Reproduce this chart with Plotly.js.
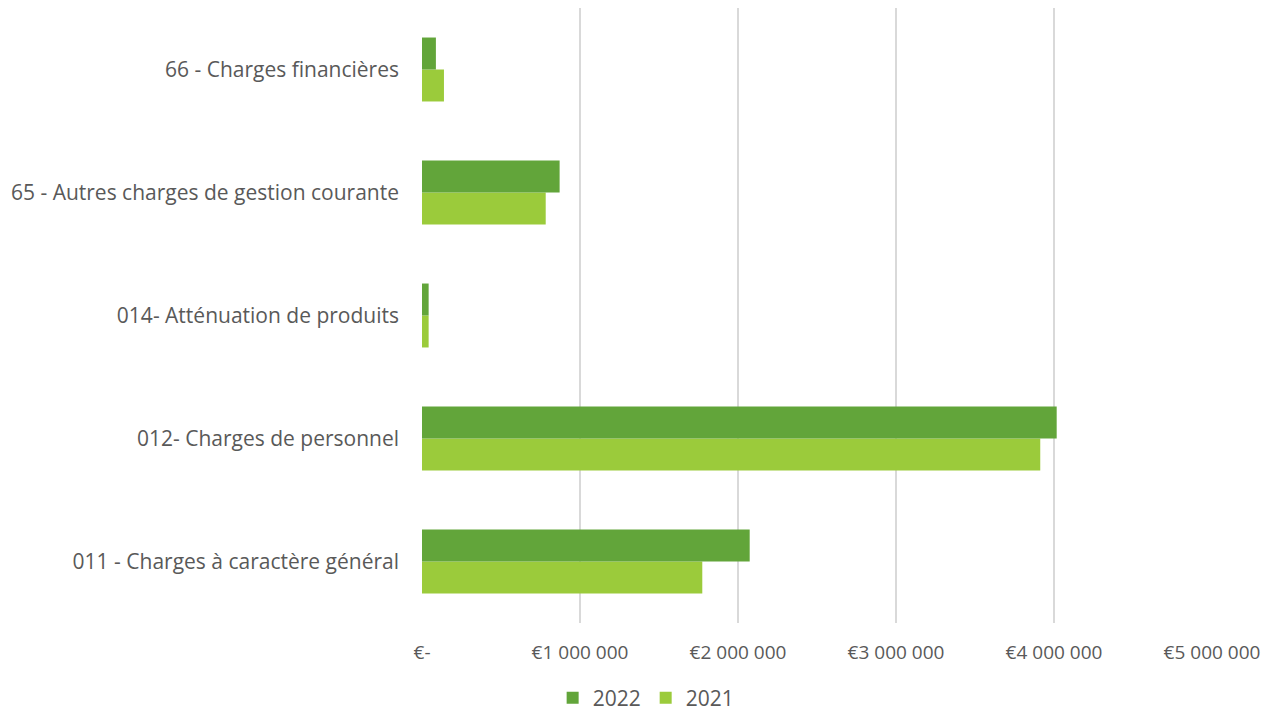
<!DOCTYPE html>
<html>
<head>
<meta charset="utf-8">
<script src="https://cdn.plot.ly/plotly-3.0.1.min.js"></script>
<style>html,body{margin:0;padding:0;background:#fff;}#chart{width:1262px;height:711px;}</style>
</head>
<body>
<div id="chart"></div>
<script>
const categories = [
  "011 - Charges à caractère général",
  "012- Charges de personnel",
  "014- Atténuation de produits",
  "65 - Autres charges de gestion courante",
  "66 - Charges financières"
];
const values2022 = [2074000, 4017000, 42000, 871000, 88000];
const values2021 = [1774000, 3913000, 42000, 783000, 139000];
const tickValues = [0, 1000000, 2000000, 3000000, 4000000, 5000000];
const tickLabels = ["€-", "€1 000 000", "€2 000 000", "€3 000 000", "€4 000 000", "€5 000 000"];

const font = "'Open Sans', 'Noto Sans', sans-serif";
const textColor = "#595959";

const traces = [
  {type: "bar", orientation: "h", name: "2021", y: categories, x: values2021,
   marker: {color: "#9BCB3B"}, hoverinfo: "x+name"},
  {type: "bar", orientation: "h", name: "2022", y: categories, x: values2022,
   marker: {color: "#62A53A"}, hoverinfo: "x+name"}
];

const layout = {
  width: 1262, height: 711,
  margin: {l: 422, r: 50, t: 8, b: 88},
  paper_bgcolor: "#fff", plot_bgcolor: "#fff",
  barmode: "group", bargap: 0.48, bargroupgap: 0,
  font: {family: font, color: textColor, size: 17},
  xaxis: {
    range: [0, 5000000], tickvals: tickValues, ticktext: tickLabels,
    showgrid: true, gridcolor: "#D9D9D9", gridwidth: 1.3,
    zeroline: false, showline: false, ticks: "", ticklabelstandoff: 16,
    tickfont: {size: 19, color: textColor, family: font}, fixedrange: true
  },
  yaxis: {
    type: "category", showgrid: false, zeroline: false, showline: false,
    ticks: "", ticklabelstandoff: 22,
    tickfont: {size: 21, color: textColor, family: font}, fixedrange: true
  },
  showlegend: true,
  legend: {
    orientation: "h", traceorder: "reversed",
    xref: "container", yref: "container", x: 0.512, xanchor: "center",
    y: 0.018, yanchor: "middle", itemwidth: 30,
    font: {size: 21, color: textColor, family: font}
  }
};

Plotly.newPlot("chart", traces, layout, {displayModeBar: false, staticPlot: true});
</script>
</body>
</html>
